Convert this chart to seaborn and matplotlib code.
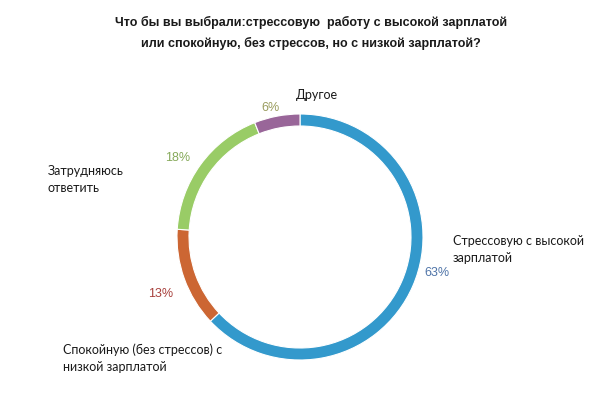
import matplotlib
matplotlib.use("Agg")
import matplotlib.pyplot as plt
import seaborn as sns

# data
categories = ["Стрессовую с высокой\nзарплатой", "Спокойную (без стрессов) с\nнизкой зарплатой",
              "Затрудняюсь\nответить", "Другое"]
shares = [63, 13, 18, 6]
pct_labels = ["63%", "13%", "18%", "6%"]

title = ("Что бы вы выбрали:стрессовую  работу с высокой зарплатой\n"
         "или спокойную, без стрессов, но с низкой зарплатой?")

ring_colors = ["#3399cc", "#cc6633", "#99cc66", "#996699"]
pct_colors = ["#4f74a8", "#a8403c", "#86a95a", "#9a9c5e"]

# layout, in pixels from top-left of the 600x394 canvas
W, H = 600, 394
center = (300, 237)
radius = 123
ring = 12
cat_pos = [(453, 249), (63, 358), (48, 179), (296, 95)]
pct_pos = [(437, 273), (161, 294), (178, 158), (270, 108)]

sns.set_theme(style="white")
plt.rcParams["font.family"] = ["Liberation Sans", "DejaVu Sans"]

fig = plt.figure(figsize=(6, 3.94), dpi=100)
ax = fig.add_axes([0, 0, 1, 1])

ax.pie(shares, colors=ring_colors, startangle=90, counterclock=False,
       center=(center[0], H - center[1]), radius=radius,
       wedgeprops=dict(width=ring, edgecolor="white", linewidth=0.8))
ax.set_xlim(0, W)
ax.set_ylim(0, H)
ax.set_aspect("equal")
ax.axis("off")

for lab, (x, y) in zip(categories, cat_pos):
    ax.text(x, H - y, lab, ha="left", va="center", fontsize=9,
            family=["Lato", "DejaVu Sans"], color="#1a1a1a", linespacing=1.5)

for lab, c, (x, y) in zip(pct_labels, pct_colors, pct_pos):
    ax.text(x, H - y, lab, ha="center", va="center", fontsize=9, color=c)

ax.text(311, H - 33, title, ha="center", va="center", fontsize=9,
        fontweight="bold", color="#1a1a1a", linespacing=1.7)

fig.savefig("out.png", dpi=100)
